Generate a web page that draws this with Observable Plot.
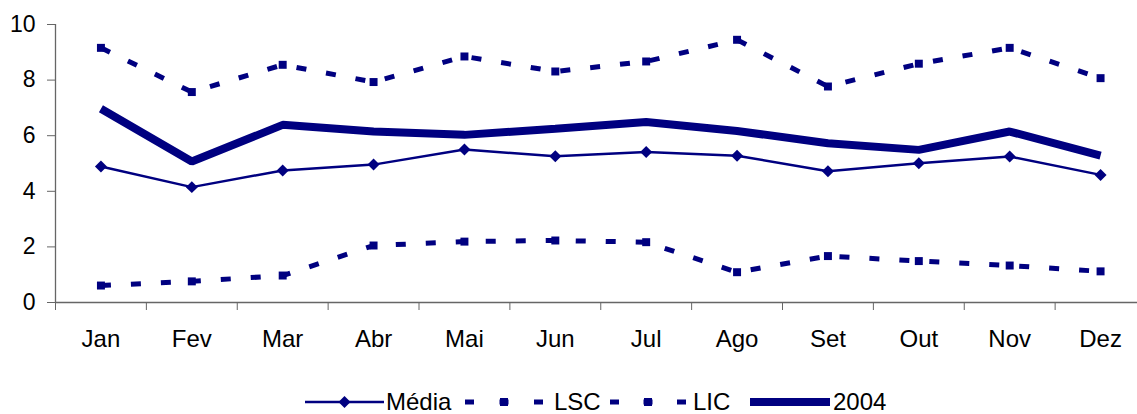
<!DOCTYPE html>
<html>
<head>
<meta charset="utf-8">
<script src="https://cdn.jsdelivr.net/npm/d3@7"></script>
<script src="https://cdn.jsdelivr.net/npm/@observablehq/plot@0.6"></script>
<style>
  html, body { margin: 0; padding: 0; background: #fff; overflow: hidden; }
  #wrap { position: relative; width: 1137px; height: 414px; font-family: "Liberation Sans", Arial, sans-serif; }
  #legend { position: absolute; left: 0; top: 390px; width: 1137px; height: 24px; font-size: 24px; line-height: 24px; color: #000; }
  #legend svg, #legend span { position: absolute; top: 0; display: block; }
  #legend svg { top: 2px; }
</style>
</head>
<body>
<div id="wrap">
  <div id="chart"></div>
  <div id="legend"></div>
</div>
<script>
// Monthly categories
const months = ["Jan", "Fev", "Mar", "Abr", "Mai", "Jun", "Jul", "Ago", "Set", "Out", "Nov", "Dez"];
// Series values
const media   = [4.89, 4.15, 4.75, 4.96, 5.50, 5.26, 5.41, 5.28, 4.72, 5.01, 5.25, 4.59];
const lsc     = [9.16, 7.57, 8.55, 7.93, 8.85, 8.31, 8.67, 9.45, 7.77, 8.59, 9.16, 8.07];
const lic     = [0.61, 0.76, 0.97, 2.05, 2.19, 2.23, 2.17, 1.09, 1.67, 1.49, 1.33, 1.12];
const ano2004 = [6.97, 5.07, 6.39, 6.15, 6.03, 6.25, 6.49, 6.17, 5.73, 5.49, 6.15, 5.28];
// Axis ticks
const yTicks = [0, 2, 4, 6, 8, 10];
const seriesNames = ["Média", "LSC", "LIC", "2004"];

const navy = "#000080";
const axisGray = "#666";

// Categories sit at the centre of each slot; tick marks fall on slot boundaries
const rows = months.map((m, i) => ({
  month: m, xc: i + 0.5,
  media: media[i], lsc: lsc[i], lic: lic[i], ano: ano2004[i]
}));
const centers = rows.map(d => d.xc);
const boundaries = d3.range(months.length + 1);

const dashed = {stroke: navy, strokeWidth: 5, strokeDasharray: "10,20", strokeLinecap: "butt", strokeLinejoin: "miter"};

const chart = Plot.plot({
  width: 1137,
  height: 360,
  marginTop: 24,
  marginBottom: 58,
  marginLeft: 55,
  marginRight: 0,
  style: {fontFamily: "'Liberation Sans', Arial, sans-serif", fontSize: "24px", color: "#000", background: "#fff"},
  x: {type: "linear", domain: [0, months.length], range: [55, 1145.5]},
  y: {domain: [0, 10]},
  marks: [
    Plot.axisY({ticks: yTicks, tickSize: 8, tickPadding: 12, stroke: axisGray, fill: "#000", label: null, fontSize: 23}),
    Plot.ruleX([0], {y1: 0, y2: 10, stroke: axisGray, strokeWidth: 1.3}),
    Plot.ruleY([0], {stroke: axisGray, strokeWidth: 1.3}),
    Plot.axisX({ticks: boundaries, tickSize: 8, tickFormat: () => "", stroke: axisGray, label: null}),
    Plot.axisX({ticks: centers, tickSize: 0, tickPadding: 27, tickFormat: v => months[Math.round(v - 0.5)], fill: "#000", label: null, fontSize: 24}),

    // LSC and LIC: dashed lines with square markers
    Plot.line(rows, {x: "xc", y: "lsc", ...dashed}),
    Plot.dot(rows, {x: "xc", y: "lsc", symbol: "square", r: 4.5, fill: navy, stroke: null}),
    Plot.line(rows, {x: "xc", y: "lic", ...dashed}),
    Plot.dot(rows, {x: "xc", y: "lic", symbol: "square", r: 4.5, fill: navy, stroke: null}),

    // Média: thin line with diamond markers
    Plot.line(rows, {x: "xc", y: "media", stroke: navy, strokeWidth: 2.5, strokeLinejoin: "miter"}),
    Plot.dot(rows, {x: "xc", y: "media", symbol: "diamond2", r: 5.4, fill: navy, stroke: null}),

    // 2004: heavy line
    Plot.line(rows, {x: "xc", y: "ano", stroke: navy, strokeWidth: 8, strokeLinecap: "butt", strokeLinejoin: "miter"})
  ]
});
document.getElementById("chart").appendChild(chart);

// Legend: each entry is a line sample followed by its name
const ns = "http://www.w3.org/2000/svg";
const legendSlots = [
  {sampleX: 305, sampleW: 79, textX: 386},
  {sampleX: 465, sampleW: 78, textX: 554},
  {sampleX: 610, sampleW: 76, textX: 693},
  {sampleX: 750, sampleW: 80, textX: 833}
];
function sample(kind, w) {
  const s = document.createElementNS(ns, "svg");
  s.setAttribute("width", w);
  s.setAttribute("height", 20);
  const line = document.createElementNS(ns, "line");
  line.setAttribute("x1", 0); line.setAttribute("x2", w);
  line.setAttribute("y1", 10); line.setAttribute("y2", 10);
  line.setAttribute("stroke", navy);
  s.appendChild(line);
  if (kind === "Média") {
    line.setAttribute("stroke-width", 2.5);
    const d = document.createElementNS(ns, "path");
    const c = w / 2;
    d.setAttribute("d", `M${c},4L${c + 6},10L${c},16L${c - 6},10Z`);
    d.setAttribute("fill", navy);
    s.appendChild(d);
  } else if (kind === "2004") {
    line.setAttribute("stroke-width", 8);
  } else {
    line.setAttribute("stroke-width", 5);
    const dash = 9, gap = (w - 3 * dash) / 2;
    line.setAttribute("stroke-dasharray", `${dash},${gap}`);
    const r = document.createElementNS(ns, "rect");
    r.setAttribute("x", w / 2 - 4); r.setAttribute("y", 6);
    r.setAttribute("width", 8); r.setAttribute("height", 8);
    r.setAttribute("fill", navy);
    s.appendChild(r);
  }
  return s;
}
const legend = document.getElementById("legend");
seriesNames.forEach((name, i) => {
  const slot = legendSlots[i];
  const s = sample(name, slot.sampleW);
  s.style.left = slot.sampleX + "px";
  legend.appendChild(s);
  const t = document.createElement("span");
  t.textContent = name;
  t.style.left = slot.textX + "px";
  legend.appendChild(t);
});
</script>
</body>
</html>
